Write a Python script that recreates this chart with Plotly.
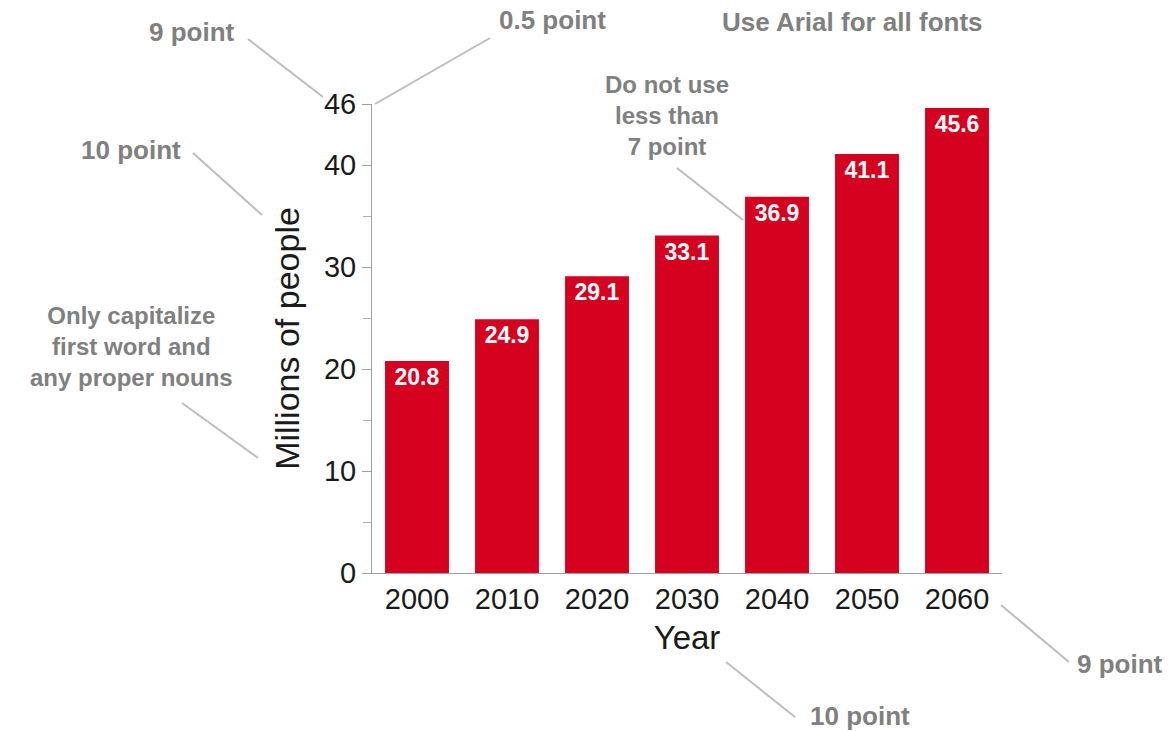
import plotly.graph_objects as go

years = ["2000", "2010", "2020", "2030", "2040", "2050", "2060"]
population = [20.8, 24.9, 29.1, 33.1, 36.9, 41.1, 45.6]
labels = ["20.8", "24.9", "29.1", "33.1", "36.9", "41.1", "45.6"]
y_ticks = [0, 10, 20, 30, 40, 46]

W, H = 1170, 731
L, R, T, B = 372, 168, 104, 158
PW, PH = W - L - R, H - T - B

def px(x):
    return (x - L) / PW

def py(y):
    return (H - B - y) / PH

FONT = "Arial, Liberation Sans, sans-serif"
GRAY = "#808080"
LINE = "#bdbdbd"

fig = go.Figure(go.Bar(
    x=years, y=population, text=labels,
    textposition="inside", insidetextanchor="end",
    textfont=dict(family=FONT, size=23, color="white", weight="bold"),
    marker=dict(color="#d6001f", line=dict(width=0)),
    cliponaxis=False,
))

fig.update_layout(
    width=W, height=H,
    margin=dict(l=L, r=R, t=T, b=B, pad=0),
    paper_bgcolor="white", plot_bgcolor="white",
    bargap=0.29, showlegend=False,
    font=dict(family=FONT, color="#1a1a1a"),
    uniformtext=dict(minsize=8, mode="show"),
)
fig.update_xaxes(
    type="category", range=[-0.5, 6.5],
    showline=True, linecolor="#a0a0a0", linewidth=1,
    ticks="", showgrid=False, zeroline=False,
    tickfont=dict(size=29, family=FONT, color="#1a1a1a"),
    title=dict(text="Year", font=dict(size=33, family=FONT, color="#1a1a1a"), standoff=12),
)
fig.update_yaxes(
    range=[0, 46], tickvals=y_ticks,
    showline=True, linecolor="#a0a0a0", linewidth=1,
    ticks="outside", ticklen=9, tickcolor="#a0a0a0", tickwidth=1,
    minor=dict(tickvals=[5, 15, 25, 35], ticks="outside", ticklen=8, tickcolor="#b0b0b0", tickwidth=1),
    showgrid=False, zeroline=False,
    tickfont=dict(size=29, family=FONT, color="#1a1a1a"),
    title=dict(text="Millions of people", font=dict(size=34, family=FONT, color="#1a1a1a"), standoff=14),
)

notes = [
    ("9 point", 192, 32, 26),
    ("0.5 point", 552, 20, 26),
    ("Use Arial for all fonts", 852, 22, 26),
    ("10 point", 131, 150, 26),
    ("Do not use<br>less than<br>7 point", 667, 116, 24),
    ("Only capitalize<br>first word and<br>any proper nouns", 131, 346, 24),
    ("9 point", 1120, 664, 26),
    ("10 point", 860, 716, 26),
]
for txt, x, y, size in notes:
    fig.add_annotation(
        text=txt, x=px(x), y=py(y), xref="paper", yref="paper",
        showarrow=False, xanchor="center", yanchor="middle",
        font=dict(family=FONT, size=size, color=GRAY, weight="bold"),
        align="center",
    )

leaders = [
    (248, 39, 323, 97),
    (490, 38, 375, 104),
    (193, 153, 262, 215),
    (677, 168, 743, 220),
    (182, 403, 258, 458),
    (1001, 605, 1069, 662),
    (726, 662, 795, 717),
]
for x0, y0, x1, y1 in leaders:
    fig.add_shape(
        type="line", xref="paper", yref="paper",
        x0=px(x0), y0=py(y0), x1=px(x1), y1=py(y1),
        line=dict(color=LINE, width=2),
    )

fig.write_html("out.html")
